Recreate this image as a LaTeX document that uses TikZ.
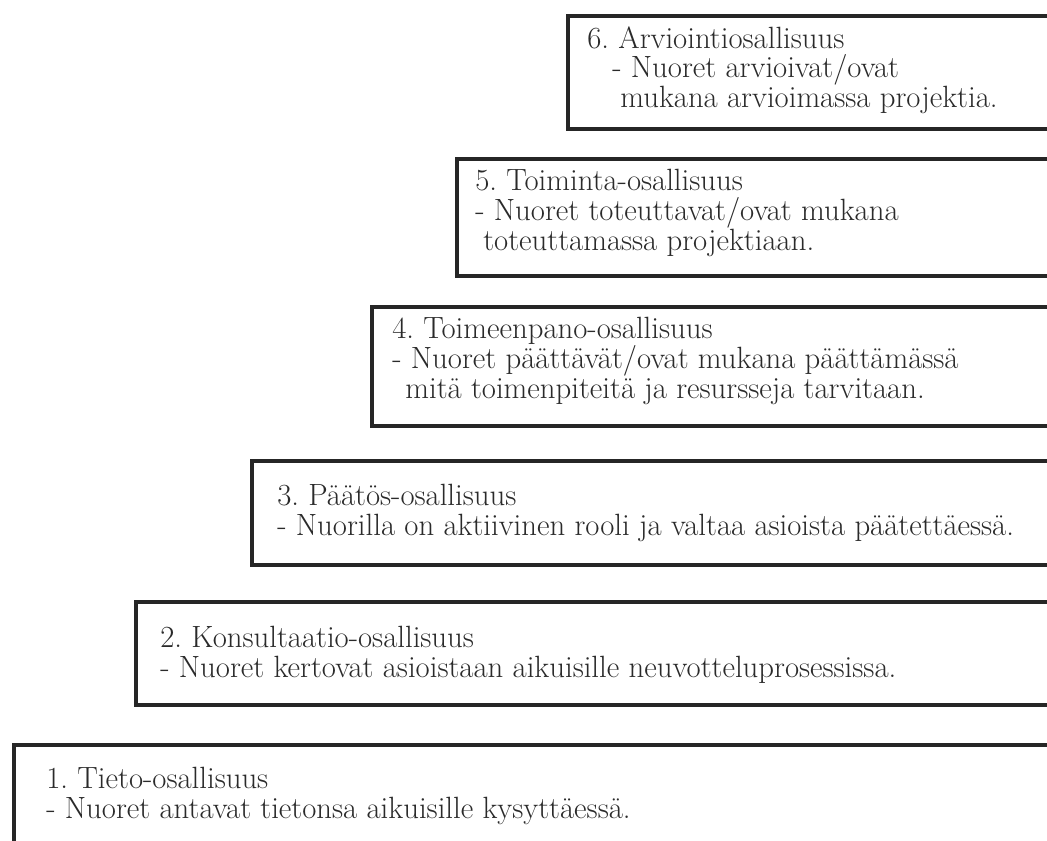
\documentclass[tikz,border=0pt]{standalone}
\usepackage{tikz}
\usetikzlibrary{positioning,calc}
\definecolor{ladink}{HTML}{262626}
\definecolor{ladtext}{HTML}{2A2A2A}
\tikzset{
  stage/.style={draw=ladink, line width=2.3pt, fill=white, anchor=north west, inner sep=0pt},
  txt/.style={anchor=north west, align=left, inner sep=0pt, text=ladtext,
    font=\fontsize{17.5}{17}\selectfont\frenchspacing},
}
\begin{document}
\begin{tikzpicture}[x=0.02cm, y=-0.02cm]
      \useasboundingbox (0,0) rectangle (1047,840);
      \clip (0,0) rectangle (1047,840);
      % steps of the ladder, each one running out at the right
      \foreach \n/\l/\t/\b in {6/566/14/127, 5/455/157/274, 4/370/305/424,
                               3/250/459/563, 2/134/600/703, 1/12/743/900}
        \node[stage, minimum width={(1120-\l)*0.02cm}, minimum height={(\b-\t)*0.02cm}] (b\n) at (\l,\t) {};
      % texts
      \node[txt] (t6) at ($(b6.north west)+(21,12)$) {6. Arviointiosallisuus\\
        \hspace{0.5cm}- Nuoret arvioivat/ovat\\
        \hspace{0.66cm}mukana arvioimassa projektia.};
      \node[txt] (t5) at ($(b5.north west)+(20,12)$) {5. Toiminta-osallisuus\\
        - Nuoret toteuttavat/ovat mukana\\
        \hspace{0.16cm}toteuttamassa projektiaan.};
      \node[txt] (t4) at ($(b4.north west)+(22,12)$) {4. Toimeenpano-osallisuus\\
        - Nuoret päättävät/ovat mukana päättämässä\\
        \hspace{0.26cm}mitä toimenpiteitä ja resursseja tarvitaan.};
      \node[txt] (t3) at ($(b3.north west)+(27,25)$) {3. Päätös-osallisuus\\
        - Nuorilla on aktiivinen rooli ja valtaa asioista päätettäessä.};
      \node[txt] (t2) at ($(b2.north west)+(26,26)$) {2. Konsultaatio-osallisuus\\
        - Nuoret kertovat asioistaan aikuisille neuvotteluprosessissa.};
      \node[txt] (t1) at ($(b1.north west)+(34,24)$) {1. Tieto-osallisuus\\
        - Nuoret antavat tietonsa aikuisille kysyttäessä.};
    \end{tikzpicture}
\end{document}
